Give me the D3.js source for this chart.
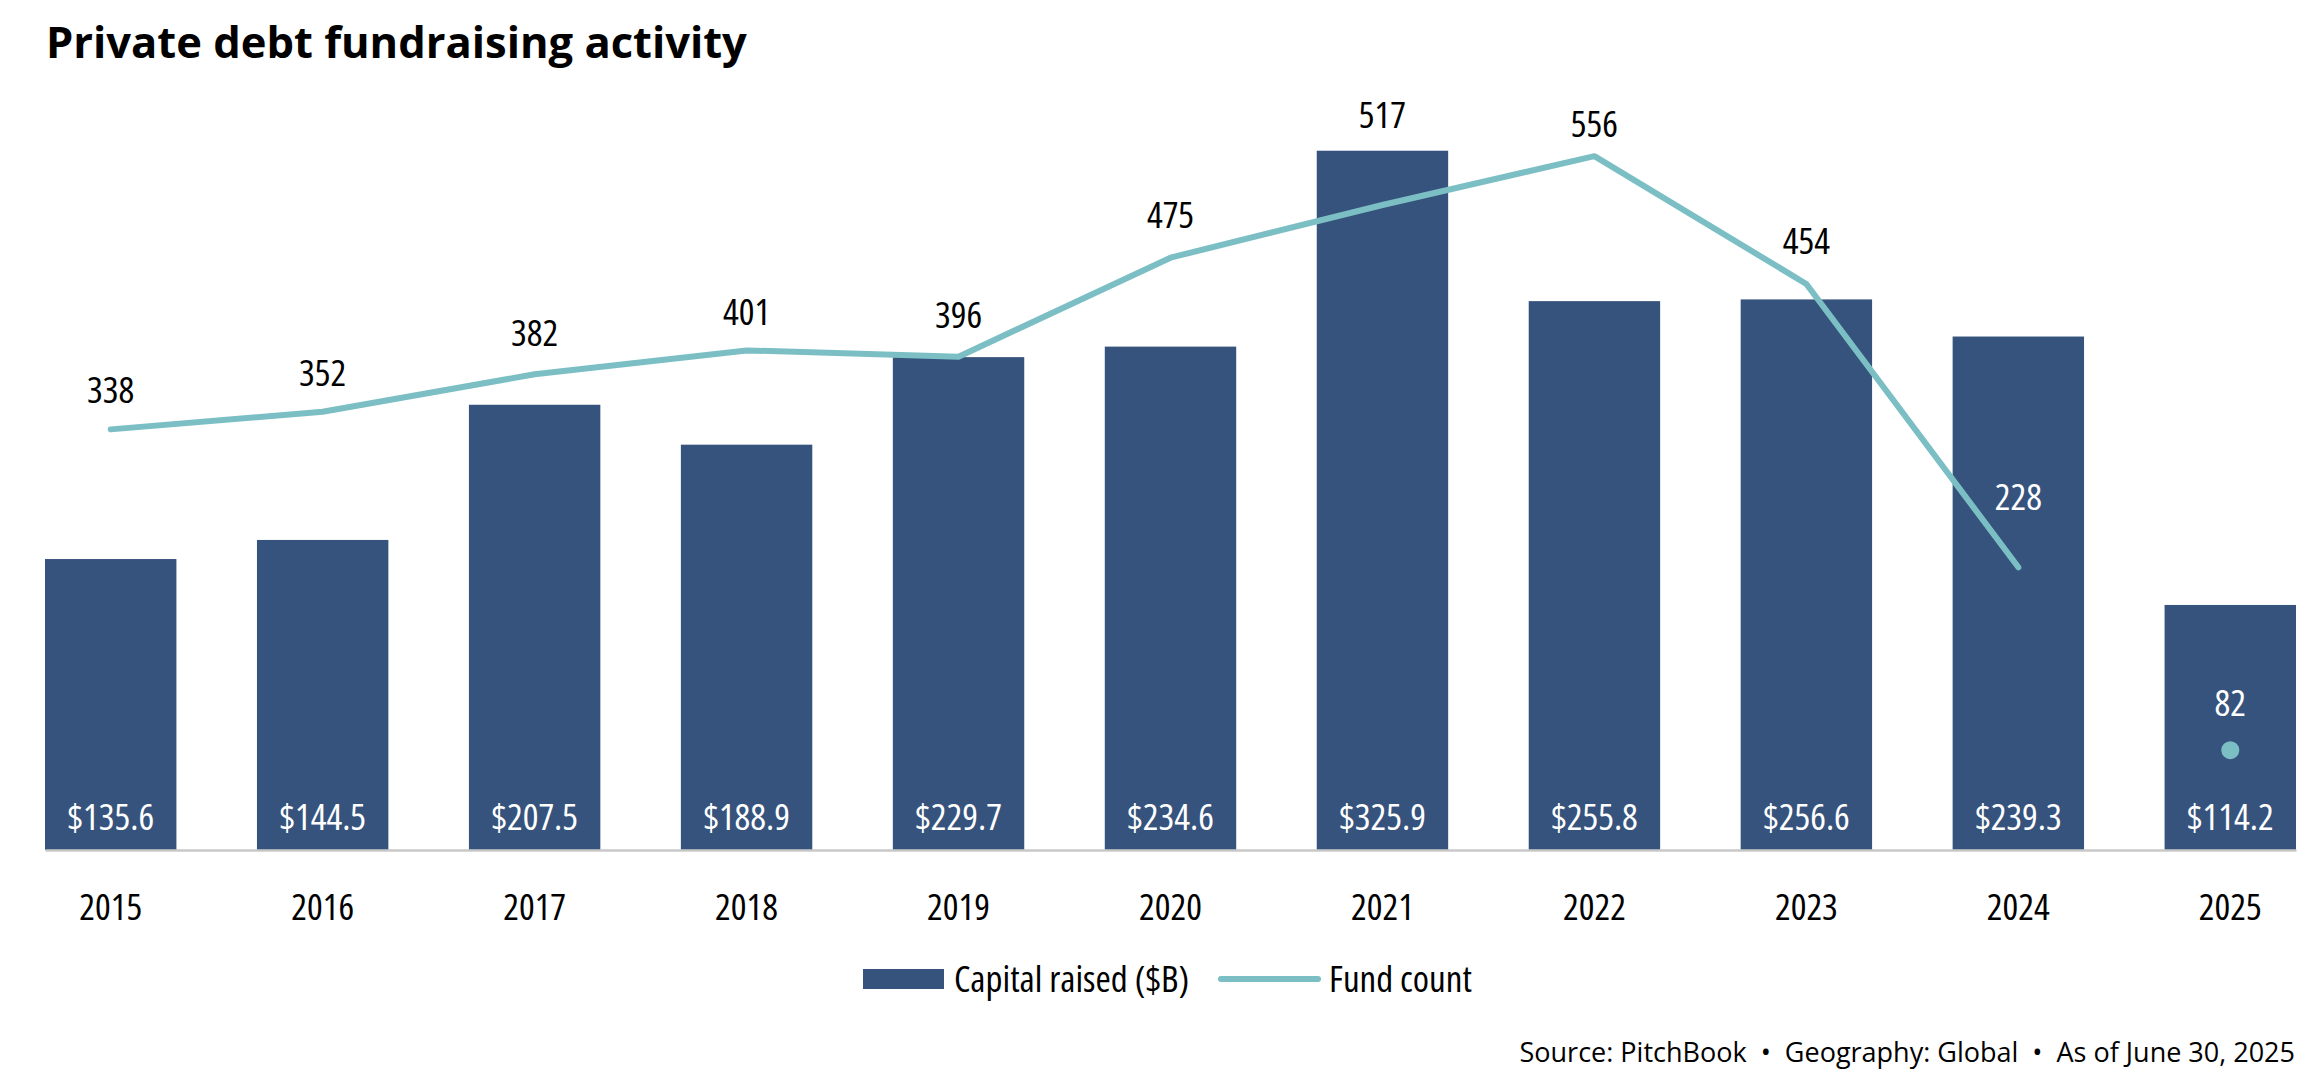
<!DOCTYPE html>
<html>
<head>
<meta charset="utf-8">
<script src="https://cdn.jsdelivr.net/npm/d3@7"></script>
<style>
    body { margin: 0; background: #fff; }
    svg { display: block; }
    .num { font-family: "Open Sans", sans-serif; font-stretch: 75%; font-weight: 400; font-size: 37px; }
</style>
</head>
<body>
<svg id="chart"></svg>
<script>
const width = 2323;
const height = 1083;

// data
const years = ['2015', '2016', '2017', '2018', '2019', '2020', '2021', '2022', '2023', '2024', '2025'];
const capitalRaised = [135.6, 144.5, 207.5, 188.9, 229.7, 234.6, 325.9, 255.8, 256.6, 239.3, 114.2];
const fundCount = [338, 352, 382, 401, 396, 475, 517, 556, 454, 228, 82];
// 2025 is only a half year -> not joined to the line, just a dot
const lineYears = years.slice(0, 10);

// how far each count label sits above its point (style, not data)
const labelLift = [26, 26, 28, 25, 29, 30, 77, 19, 30, 57, 34];

const barColor = '#36537d';
const lineColor = '#7bbfc5';

const svg = d3.select('#chart')
    .attr('width', width)
    .attr('height', height);

// scales
const x = d3.scaleBand()
    .domain(years)
    .range([45, 2296])
    .paddingInner(0.38)
    .paddingOuter(0);

const yBar = d3.scaleLinear()
    .domain([0, 350])
    .range([850, 99]);

const yLine = d3.scaleLinear()
    .domain([0, 600])
    .range([853, 101]);

const cx = d => x(d) + x.bandwidth() / 2;

// title
svg.append('text')
    .attr('x', 46)
    .attr('y', 58)
    .style('font-family', '"Open Sans", sans-serif')
    .style('font-weight', 700)
    .style('font-size', '43.5px')
    .attr('fill', '#000')
    .text('Private debt fundraising activity');

// bars
svg.selectAll('.bar')
    .data(years)
    .enter()
    .append('rect')
    .attr('class', 'bar')
    .attr('x', d => x(d))
    .attr('y', (d, i) => yBar(capitalRaised[i]))
    .attr('width', x.bandwidth())
    .attr('height', (d, i) => yBar(0) - yBar(capitalRaised[i]))
    .attr('fill', barColor);

// baseline (x axis without ticks)
const xAxis = svg.append('g')
    .attr('transform', `translate(0,${yBar(0)})`)
    .call(d3.axisBottom(x).tickSize(0).tickPadding(44));
xAxis.select('.domain')
    .attr('stroke', '#c8c8c8')
    .attr('stroke-width', 2.5);
xAxis.selectAll('text')
    .attr('class', 'num')
    .attr('font-family', null)
    .attr('font-size', null)
    .attr('fill', '#000');

// value labels at the foot of the bars
svg.selectAll('.barLabel')
    .data(years)
    .enter()
    .append('text')
    .attr('class', 'num')
    .attr('x', d => cx(d))
    .attr('y', yBar(0) - 20)
    .attr('text-anchor', 'middle')
    .attr('fill', '#fff')
    .text((d, i) => '$' + capitalRaised[i].toFixed(1));

// fund count line
const line = d3.line()
    .x(d => cx(d))
    .y((d, i) => yLine(fundCount[i]));

svg.append('path')
    .datum(lineYears)
    .attr('d', line)
    .attr('fill', 'none')
    .attr('stroke', lineColor)
    .attr('stroke-width', 6)
    .attr('stroke-linejoin', 'round')
    .attr('stroke-linecap', 'round');

// the lone 2025 dot
svg.append('circle')
    .attr('cx', cx(years[10]))
    .attr('cy', yLine(fundCount[10]))
    .attr('r', 9)
    .attr('fill', lineColor);

// count labels, white when they fall inside a bar
svg.selectAll('.countLabel')
    .data(years)
    .enter()
    .append('text')
    .attr('class', 'num')
    .attr('x', d => cx(d))
    .attr('y', (d, i) => yLine(fundCount[i]) - labelLift[i])
    .attr('text-anchor', 'middle')
    .attr('fill', (d, i) => (yLine(fundCount[i]) - labelLift[i] > yBar(capitalRaised[i]) ? '#fff' : '#000'))
    .text((d, i) => fundCount[i]);

// legend
const legend = svg.append('g');
legend.append('rect')
    .attr('x', 863)
    .attr('y', 969)
    .attr('width', 81)
    .attr('height', 20)
    .attr('fill', barColor);
legend.append('text')
    .attr('class', 'num')
    .attr('x', 954)
    .attr('y', 992)
    .text('Capital raised ($B)');
legend.append('line')
    .attr('x1', 1221)
    .attr('x2', 1318)
    .attr('y1', 979)
    .attr('y2', 979)
    .attr('stroke', lineColor)
    .attr('stroke-width', 6)
    .attr('stroke-linecap', 'round');
legend.append('text')
    .attr('class', 'num')
    .attr('x', 1329)
    .attr('y', 992)
    .text('Fund count');

// source line
svg.append('text')
    .attr('x', 2295)
    .attr('y', 1062)
    .attr('text-anchor', 'end')
    .style('font-family', '"Open Sans", sans-serif')
    .style('font-size', '27px')
    .attr('fill', '#000')
    .text('Source: PitchBook\u00a0\u00a0•\u00a0\u00a0Geography: Global\u00a0\u00a0•\u00a0\u00a0As of June 30, 2025');
</script>
</body>
</html>
